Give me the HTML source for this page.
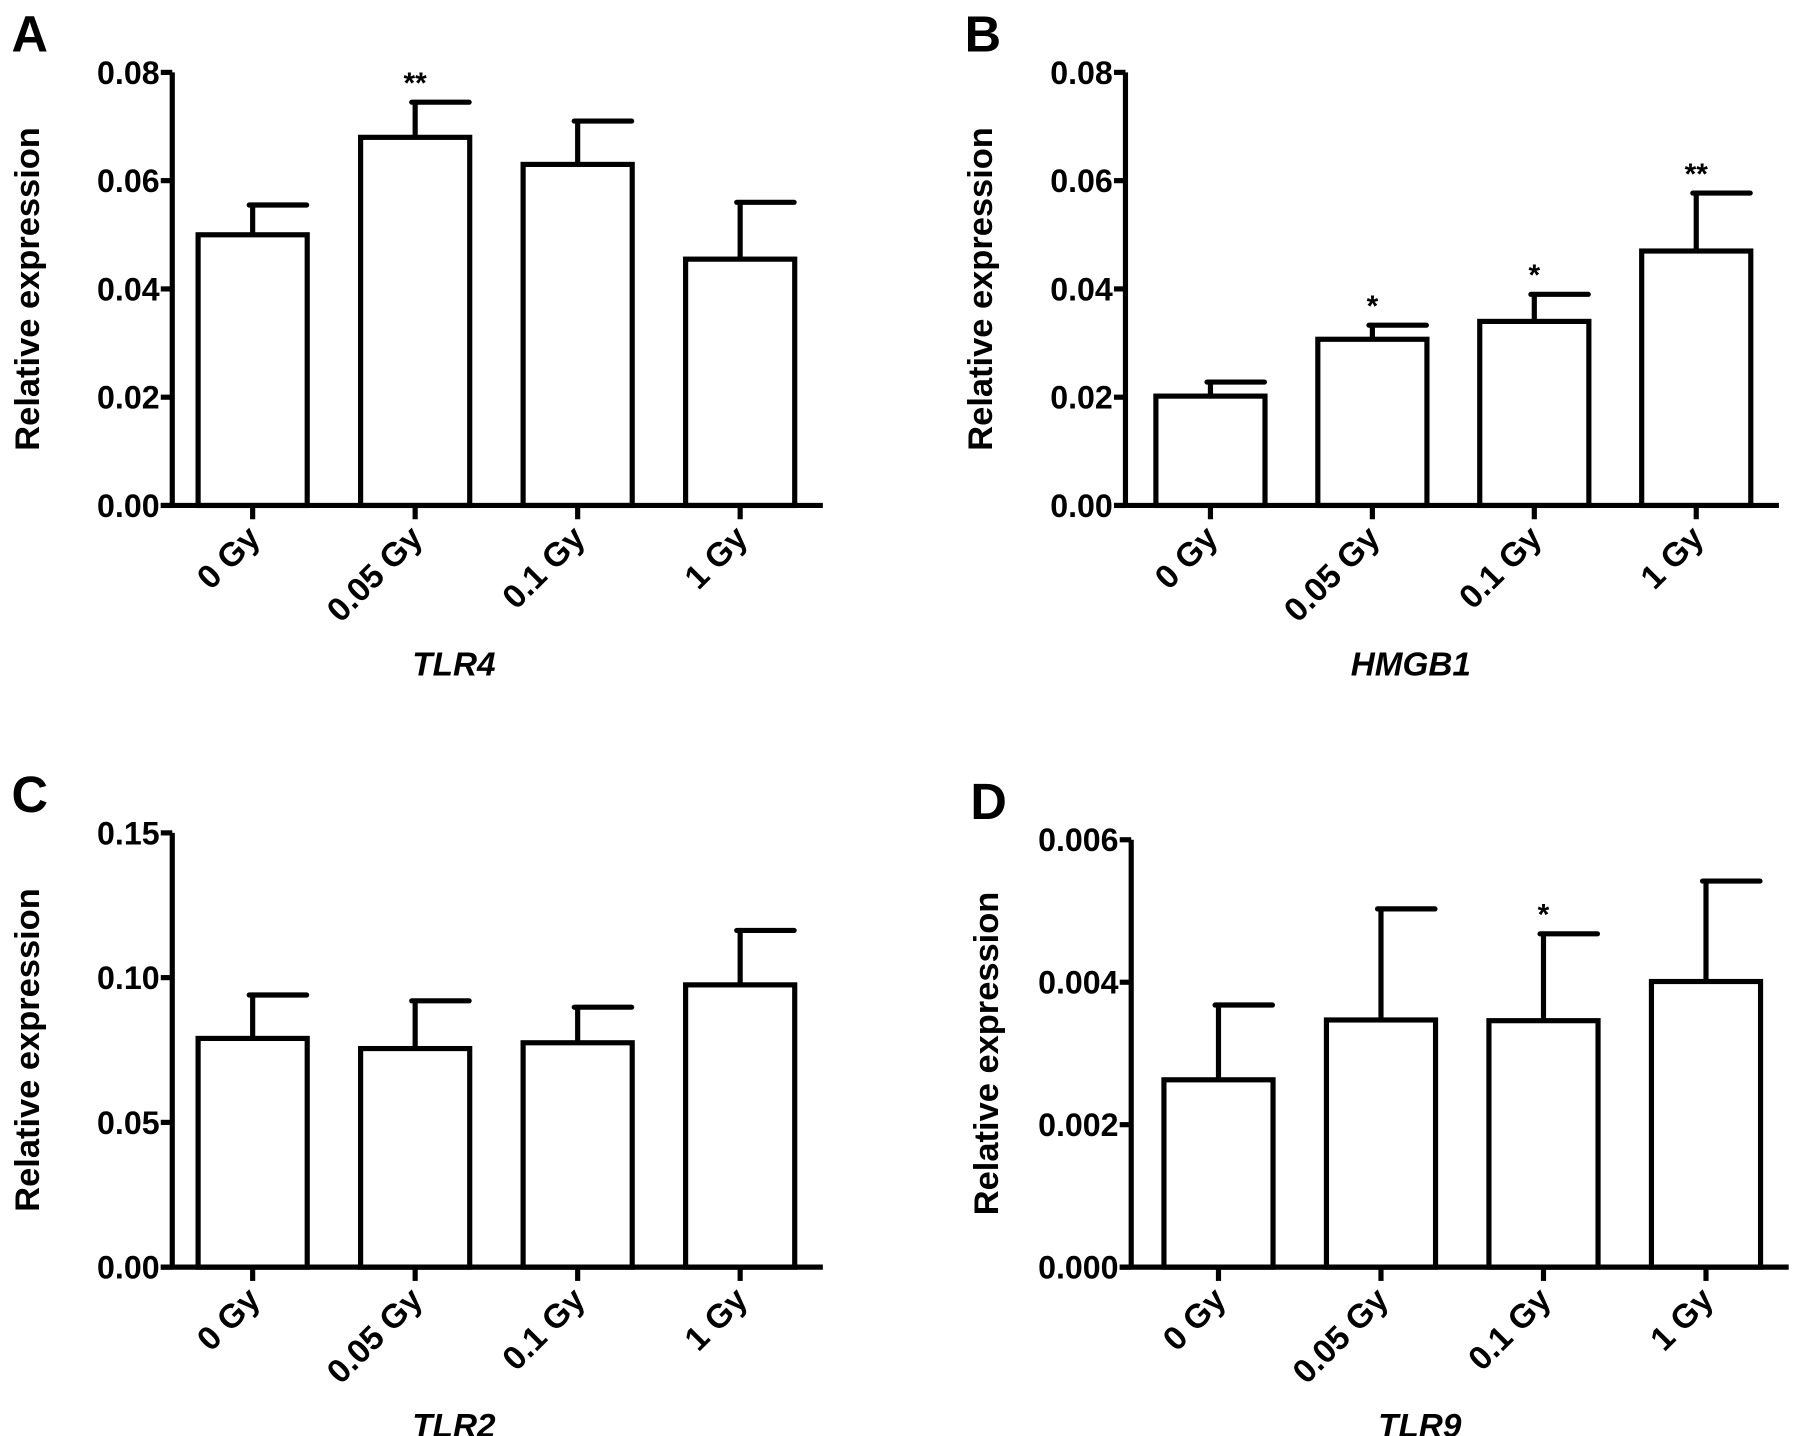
<!DOCTYPE html>
<html><head><meta charset="utf-8">
<style>
html,body{margin:0;padding:0;background:#fff;}
svg{display:block;}
text{font-family:"Liberation Sans",Arial,sans-serif;font-weight:bold;fill:#000;}
</style></head>
<body>
<svg id="fig" width="1795" height="1436" viewBox="0 0 1563 1250" preserveAspectRatio="none" xmlns="http://www.w3.org/2000/svg"></svg>
<script>
const categories = ["0 Gy","0.05 Gy","0.1 Gy","1 Gy"];
const tlr4Values = [0.050, 0.068, 0.063, 0.0455];
const tlr4Errors = [0.0555, 0.0745, 0.071, 0.056];
const tlr4Stars = ["", "**", "", ""];
const tlr4Ticks = ["0.00","0.02","0.04","0.06","0.08"];
const hmgb1Values = [0.0202, 0.0307, 0.034, 0.047];
const hmgb1Errors = [0.0228, 0.0333, 0.039, 0.0577];
const hmgb1Stars = ["", "*", "*", "**"];
const hmgb1Ticks = ["0.00","0.02","0.04","0.06","0.08"];
const tlr2Values = [0.079, 0.0755, 0.0775, 0.0975];
const tlr2Errors = [0.094, 0.092, 0.0898, 0.1163];
const tlr2Stars = ["", "", "", ""];
const tlr2Ticks = ["0.00","0.05","0.10","0.15"];
const tlr9Values = [0.00263, 0.00347, 0.00346, 0.00401];
const tlr9Errors = [0.00368, 0.00503, 0.00468, 0.00542];
const tlr9Stars = ["", "", "*", ""];
const tlr9Ticks = ["0.000","0.002","0.004","0.006"];

const NS = "http://www.w3.org/2000/svg";
const svg = document.getElementById('fig');
function mk(tag, attrs, parent){
  const e = document.createElementNS(NS, tag);
  for (const k in attrs) e.setAttribute(k, attrs[k]);
  (parent||svg).appendChild(e);
  return e;
}
function panel(opt){
  const g = mk('g', {});
  
  
  const ticks = opt.ticks.map(Number);
  const yMax = ticks[ticks.length-1];
  const y = v => opt.y0 - (v / yMax) * (opt.y0 - opt.yTop);
  const step = opt.step, bw = 95;
  const cx = i => opt.firstC + i * step;
  const sw = 4.5;
  const L = mk('text', {x: opt.ax - 140, y: opt.yTop - 18, 'font-size': 44}, g);
  L.textContent = opt.letter;
  
  
  const yt = mk('text', {x: 0, y: 0, 'font-size': 30, 'text-anchor': 'middle', transform: `translate(${opt.ax-116},${(opt.y0+opt.yTop)/2}) rotate(-90)`}, g);
  yt.textContent = 'Relative expression';
  
  
  opt.values.forEach((v, i) => {
    const c = cx(i);
    const eb = mk('line', {x1: c, x2: c, y1: y(v), y2: y(opt.errors[i]), stroke: '#000', 'stroke-width': sw}, g);
    
    
    const cap = mk('line', {x1: c - 3, x2: c + 47, y1: y(opt.errors[i]), y2: y(opt.errors[i]), stroke: '#000', 'stroke-width': sw, 'stroke-linecap': 'round'}, g);
    
    
    const r = mk('rect', {x: c - bw/2, y: y(v), width: bw, height: opt.y0 - y(v), fill: '#fff', stroke: '#000', 'stroke-width': sw}, g);
    
    
    if (opt.stars[i]) {
      const s = mk('text', {x: c, y: y(opt.errors[i]) - 8, 'font-size': 26, 'text-anchor': 'middle', 'font-weight': 'normal'}, g);
      s.textContent = opt.stars[i];
      
      
    }
    const tk = mk('line', {x1: c, x2: c, y1: opt.y0, y2: opt.y0 + 12, stroke: '#000', 'stroke-width': sw}, g);
    
    
    const xl = mk('text', {x: 0, y: 0, 'font-size': 29, 'text-anchor': 'end', transform: `translate(${c+8},${opt.y0+30}) rotate(-45)`}, g);
    xl.textContent = categories[i];
    
    
  });
  const ya = mk('line', {x1: opt.ax, x2: opt.ax, y1: opt.yTop, y2: opt.y0, stroke: '#000', 'stroke-width': sw}, g);
  
  
  const xa = mk('line', {x1: opt.ax - 10, x2: cx(3) + 72, y1: opt.y0, y2: opt.y0, stroke: '#000', 'stroke-width': sw}, g);
  
  
  opt.ticks.forEach(t => {
    const ty = y(Number(t));
    const l = mk('line', {x1: opt.ax - 10, x2: opt.ax, y1: ty, y2: ty, stroke: '#000', 'stroke-width': sw}, g);
    
    
    const tx = mk('text', {x: opt.ax - 11, y: ty + 10, 'font-size': 28, 'text-anchor': 'end'}, g);
    tx.textContent = t;
    
    
  });
  const gt = mk('text', {x: (cx(0) + cx(3)) / 2 - 37, y: opt.y0 + 148, 'font-size': 29, 'text-anchor': 'middle', 'font-style': 'italic'}, g);
  gt.textContent = opt.gene;
  
  
}
panel({letter:'A', gene:'TLR4', ax:150, y0:440, yTop:63, firstC:220, step:141.5, values:tlr4Values, errors:tlr4Errors, stars:tlr4Stars, ticks:tlr4Ticks});
panel({letter:'B', gene:'HMGB1', ax:980, y0:440, yTop:63, firstC:1054, step:141, values:hmgb1Values, errors:hmgb1Errors, stars:hmgb1Stars, ticks:hmgb1Ticks});
panel({letter:'C', gene:'TLR2', ax:150, y0:1103, yTop:725, firstC:220, step:141.5, values:tlr2Values, errors:tlr2Errors, stars:tlr2Stars, ticks:tlr2Ticks});
panel({letter:'D', gene:'TLR9', ax:985, y0:1103, yTop:731, firstC:1061, step:141.5, values:tlr9Values, errors:tlr9Errors, stars:tlr9Stars, ticks:tlr9Ticks});
</script>
</body></html>
